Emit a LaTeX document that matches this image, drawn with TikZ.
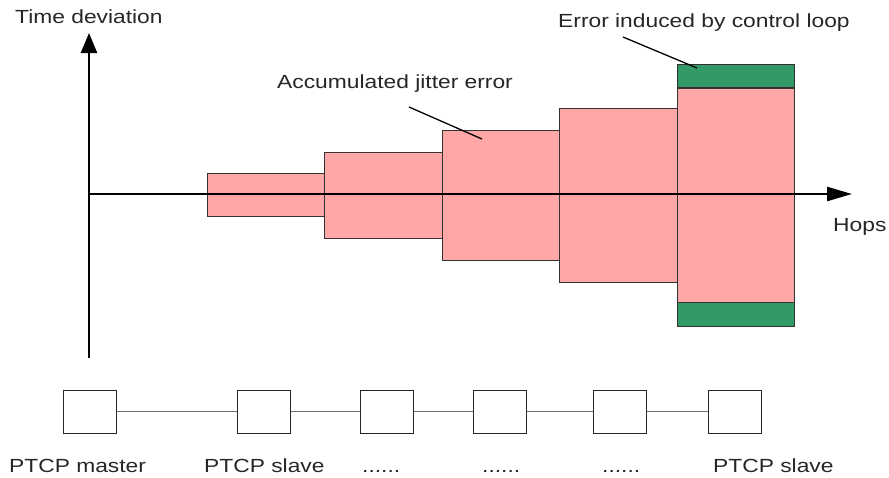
\documentclass[tikz,border=0pt]{standalone}
\usepackage{fontspec}
\setmainfont{Liberation Sans}[FakeStretch=1.2]
\usetikzlibrary{arrows.meta}
\definecolor{jitter}{HTML}{FFA6A6}
\definecolor{loop}{HTML}{339966}
\definecolor{txt}{HTML}{262626}
\begin{document}
\begin{tikzpicture}[x=1pt,y=-1pt,
  lbl/.style={anchor=base west,inner sep=0,text=txt,font=\fontsize{19}{22}\selectfont},
  errbox/.style={draw=black!80,line width=1pt,fill=jitter,inner sep=0,minimum width=#1},
  ctrlbox/.style={draw=black!80,line width=1pt,fill=loop,inner sep=0,minimum width=117pt,minimum height=23.5pt},
  hop/.style={draw=black!85,line width=1pt,fill=white,inner sep=0,minimum width=53pt,minimum height=43pt},
  link/.style={draw=black!55,line width=1.5pt},
  axis/.style={line width=2.5pt,black},
  leader/.style={line width=1.3pt,black}]
\useasboundingbox (0,0) rectangle (889,477);

% accumulated error per hop
\node[errbox=117pt,minimum height=43.5pt] (e1) at (265.5,194.75) {};
\node[errbox=118pt,minimum height=86pt]   (e2) at (383,195) {};
\node[errbox=117pt,minimum height=130pt]  (e3) at (500.5,195) {};
\node[errbox=118pt,minimum height=174pt]  (e4) at (618,195) {};
\node[errbox=117pt,minimum height=215pt]  (e5) at (735.5,195.5) {};
\node[ctrlbox] (c1) at (735.5,76) {};
\node[ctrlbox] (c2) at (735.5,314.5) {};

% axes
\coordinate (o) at (89,194);
\coordinate (ytop) at (89,33);
\coordinate (ybot) at (89,358);
\coordinate (xend) at (852,194);
\draw[axis,-{Triangle[length=20pt,width=16pt]}] (ybot) -- (ytop);
\draw[axis,-{Triangle[length=25pt,width=14pt]}] (o) -- (xend);

% labels
\node[lbl] (tdev) at (15,23) {Time deviation};
\node[lbl] (hops) at (833,231) {Hops};
\node[lbl] (acc) at (277,88) {Accumulated jitter error};
\node[lbl] (ctrl) at (558,27) {Error induced by control loop};

% leader lines
\coordinate (accA) at (409,107);
\coordinate (accB) at (482,139);
\coordinate (ctrlA) at (623,37);
\coordinate (ctrlB) at (697,68);
\draw[leader] (accA) -- (accB);
\draw[leader] (ctrlA) -- (ctrlB);

% chain of devices
\node[hop] (h1) at (89.5,411.5) {};
\node[hop] (h2) at (263.5,411.5) {};
\node[hop] (h3) at (386.8,411.5) {};
\node[hop] (h4) at (500,411.5) {};
\node[hop] (h5) at (619.5,411.5) {};
\node[hop] (h6) at (734.5,411.5) {};
\draw[link] (h1) -- (h2);
\draw[link] (h2) -- (h3);
\draw[link] (h3) -- (h4);
\draw[link] (h4) -- (h5);
\draw[link] (h5) -- (h6);

\node[lbl] (l1) at (9,472) {PTCP master};
\node[lbl] (l2) at (204,472) {PTCP slave};
\node[lbl] (l3) at (362,472) {......};
\node[lbl] (l4) at (482,472) {......};
\node[lbl] (l5) at (602,472) {......};
\node[lbl] (l6) at (713,472) {PTCP slave};
\end{tikzpicture}
\end{document}
